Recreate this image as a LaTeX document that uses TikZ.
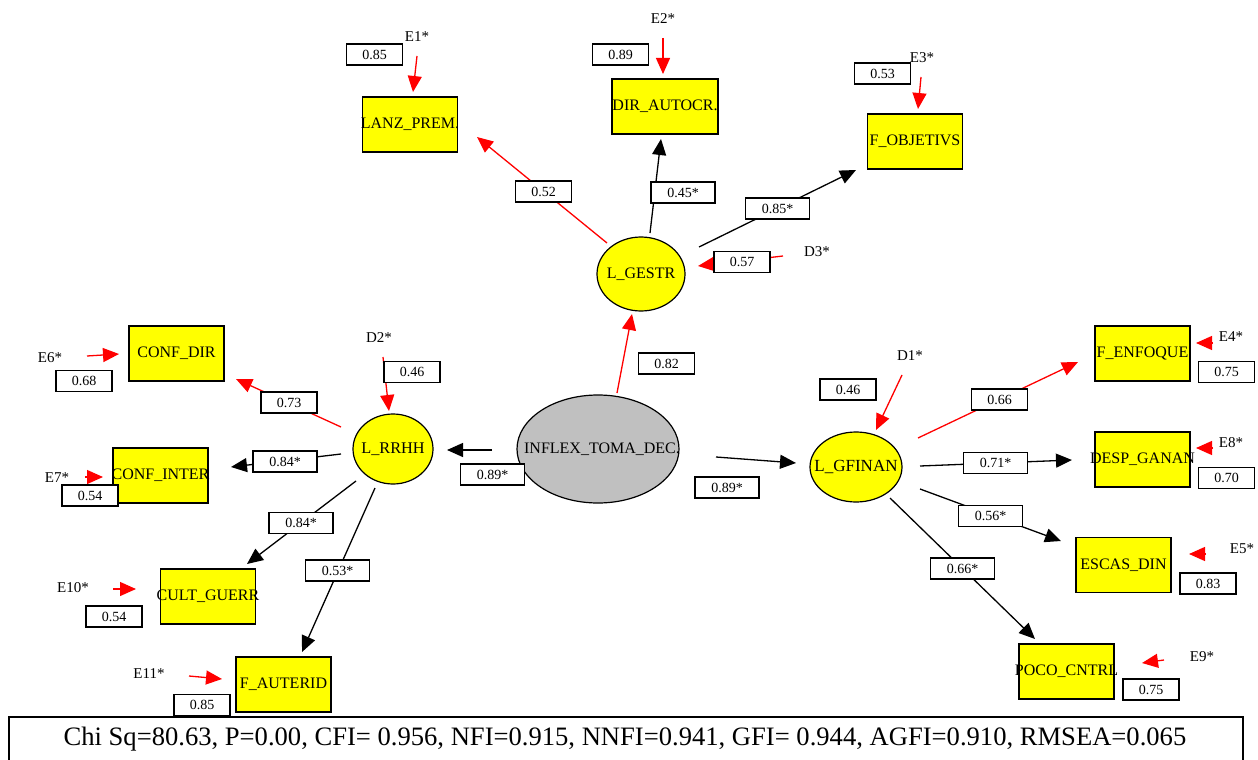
\documentclass[tikz,border=0pt]{standalone}
\usepackage{fontspec}
\setmainfont{Liberation Serif}
\usetikzlibrary{arrows.meta,shapes.geometric}
\definecolor{yel}{RGB}{255,255,0}
\definecolor{gry}{RGB}{192,192,192}
\definecolor{rd}{RGB}{255,0,0}
\begin{document}
\begin{tikzpicture}[x=1pt,y=-1pt,
  obs/.style={draw=black,fill=yel,line width=1.2pt,minimum width=95pt,minimum height=55pt,inner sep=0pt},
  lat/.style={ellipse,draw=black,fill=yel,line width=1.2pt,inner sep=0pt},
  ntxt/.style={inner sep=0pt,font=\fontsize{16}{16}\selectfont},
  lbl/.style={draw=black,fill=white,line width=1.2pt,minimum height=21pt,minimum width=56pt,inner sep=0pt,font=\fontsize{14}{14}\selectfont},
  lbls/.style={lbl,minimum width=64pt},
  errt/.style={inner sep=0pt,font=\fontsize{15}{15}\selectfont},
  blk/.style={draw=black,line width=1.3pt,-{Triangle[length=16pt,width=14pt]}},
  rarr/.style={draw=rd,line width=1.3pt,-{Triangle[length=16pt,width=14pt]}}
]
\useasboundingbox (0,0) rectangle (1258,760);

% observed variables
\node[obs,label={[ntxt]center:LANZ\_PREM.}] (lanz) at (410,124.5) {};
\node[obs,minimum width=106pt,label={[ntxt]center:DIR\_AUTOCR.}] (dir) at (665,106.5) {};
\node[obs,label={[ntxt]center:F\_OBJETIVS}] (fobj) at (915,141.5) {};
\node[obs,label={[ntxt]center:CONF\_DIR}] (confdir) at (176.5,353.5) {};
\node[obs,label={[ntxt]center:CONF\_INTER}] (confint) at (160.5,475.5) {};
\node[obs,label={[ntxt]center:CULT\_GUERR}] (cult) at (208,596.5) {};
\node[obs,label={[ntxt]center:F\_AUTERID}] (faut) at (283.5,684.5) {};
\node[obs,label={[ntxt]center:F\_ENFOQUE}] (fenf) at (1142.5,353.5) {};
\node[obs,label={[ntxt]center:DESP\_GANAN}] (desp) at (1142.5,459.5) {};
\node[obs,label={[ntxt]center:ESCAS\_DIN}] (escas) at (1123.5,565) {};
\node[obs,label={[ntxt]center:POCO\_CNTRL}] (poco) at (1066.5,671.5) {};

% latent variables
\node[lat,minimum width=88pt,minimum height=74pt,label={[ntxt]center:L\_GESTR}] (gestr) at (641,274) {};
\node[lat,minimum width=80pt,minimum height=70pt,label={[ntxt,font=\fontsize{16.3}{16}\selectfont]center:L\_RRHH}] (rrhh) at (393,449) {};
\node[lat,minimum width=92pt,minimum height=70pt,label={[ntxt,font=\fontsize{17}{17}\selectfont]center:L\_GFINAN}] (gfin) at (856,467) {};
\node[lat,fill=gry,minimum width=162pt,minimum height=108pt,label={[ntxt,xshift=4pt]center:INFLEX\_TOMA\_DEC.}] (infl) at (598,449) {};

% error / disturbance names
\node[errt] (e1) at (417,37) {E1*};
\node[errt] (e2) at (663,19) {E2*};
\node[errt] (e3) at (922,58) {E3*};
\node[errt] (d3) at (817,252) {D3*};
\node[errt] (e6) at (50,358) {E6*};
\node[errt] (d2) at (379,338) {D2*};
\node[errt] (e7) at (57,478) {E7*};
\node[errt] (e10) at (73,588) {E10*};
\node[errt] (e11) at (149,674) {E11*};
\node[errt] (d1) at (910,356) {D1*};
\node[errt] (e4) at (1231,337) {E4*};
\node[errt] (e8) at (1231,443) {E8*};
\node[errt] (e5) at (1242,549) {E5*};
\node[errt] (e9) at (1202,657) {E9*};

% connector end points
\coordinate (e1s) at (417,56);   \coordinate (e1e) at (413,92);
\coordinate (e2s) at (663,38);   \coordinate (e2e) at (663,74);
\coordinate (e3s) at (921,77);   \coordinate (e3e) at (918,109);
\coordinate (d3s) at (783,256);  \coordinate (d3e) at (698,266);
\coordinate (gls) at (607,243);  \coordinate (gle) at (477,137);
\coordinate (igs) at (617,393);  \coordinate (ige) at (632,314);
\coordinate (e6s) at (87,356);   \coordinate (e6e) at (119,354);
\coordinate (d2s) at (383,357);  \coordinate (d2e) at (389,411);
\coordinate (rcds) at (341,427); \coordinate (rcde) at (236,379);
\coordinate (e7s) at (85,477);   \coordinate (e7e) at (103,477);
\coordinate (e10s) at (113,589); \coordinate (e10e) at (136,589);
\coordinate (e11s) at (189,676); \coordinate (e11e) at (222,679);
\coordinate (d1s) at (902,375);  \coordinate (d1e) at (876,430);
\coordinate (gfs) at (918,438);  \coordinate (gfe) at (1078,362);
\coordinate (e4s) at (1213,343); \coordinate (e4e) at (1196,343);
\coordinate (e8s) at (1213,448); \coordinate (e8e) at (1196,448);
\coordinate (e5s) at (1206,554); \coordinate (e5e) at (1189,554);
\coordinate (e9s) at (1164,660); \coordinate (e9e) at (1142,663);
\coordinate (gds) at (650,233);  \coordinate (gde) at (661,139);
\coordinate (gos) at (699,247);  \coordinate (goe) at (856,170);
\coordinate (irs) at (492,450);  \coordinate (ire) at (447,450);
\coordinate (rcis) at (341,454); \coordinate (rcie) at (231,467);
\coordinate (rcgs) at (356,481); \coordinate (rcge) at (247,564);
\coordinate (rfas) at (375,488); \coordinate (rfae) at (302,652);
\coordinate (ifs) at (716,457);  \coordinate (ife) at (796,463);
\coordinate (fds) at (920,466);  \coordinate (fde) at (1072,460);
\coordinate (fes) at (920,489);  \coordinate (fee) at (1061,541);
\coordinate (fps) at (890,498);  \coordinate (fpe) at (1035,639);

% red connectors
\foreach \s/\e in {e1s/e1e,e2s/e2e,e3s/e3e,d3s/d3e,gls/gle,igs/ige,e6s/e6e,d2s/d2e,rcds/rcde,e7s/e7e,e10s/e10e,e11s/e11e,d1s/d1e,gfs/gfe,e4s/e4e,e8s/e8e,e5s/e5e,e9s/e9e}
  \draw[rarr] (\s) -- (\e);
% black connectors
\foreach \s/\e in {gds/gde,gos/goe,irs/ire,rcis/rcie,rcgs/rcge,rfas/rfae,ifs/ife,fds/fde,fes/fee,fps/fpe}
  \draw[blk] (\s) -- (\e);

% value labels
\node[lbl] (l1) at (374.5,54.5) {0.85};
\node[lbl] (l2) at (620.5,54.5) {0.89};
\node[lbl] (l3) at (882.5,73.5) {0.53};
\node[lbl] (l4) at (543.5,191.5) {0.52};
\node[lbls] (l5) at (683,192.5) {0.45*};
\node[lbls] (l6) at (777.5,208.5) {0.85*};
\node[lbl] (l7) at (742,262) {0.57};
\node[lbl] (l8) at (666.5,363.5) {0.82};
\node[lbl] (l9) at (84,381) {0.68};
\node[lbl] (l10) at (412,372) {0.46};
\node[lbl] (l11) at (289,402.5) {0.73};
\node[lbls] (l12) at (285,461.5) {0.84*};
\node[lbl] (l13) at (90,495.5) {0.54};
\node[lbls] (l14) at (492.5,474.5) {0.89*};
\node[lbls] (l15) at (301,523) {0.84*};
\node[lbls] (l16) at (337.5,570.5) {0.53*};
\node[lbl] (l17) at (114,616.5) {0.54};
\node[lbl] (l18) at (202,705) {0.85};
\node[lbls] (l19) at (727,487.5) {0.89*};
\node[lbl] (l20) at (848,389.5) {0.46};
\node[lbl] (l21) at (999.5,399.5) {0.66};
\node[lbl] (l22) at (1226.5,372) {0.75};
\node[lbls] (l23) at (995.5,463) {0.71*};
\node[lbl] (l24) at (1226.5,478) {0.70};
\node[lbls] (l25) at (990.5,516) {0.56*};
\node[lbl] (l26) at (1208,583.5) {0.83};
\node[lbls] (l27) at (962.5,568.5) {0.66*};
\node[lbl] (l28) at (1151,689.5) {0.75};

% fit statistics
\draw[line width=2pt] (9,717) rectangle (1243,770);
\node[inner sep=0pt,font=\fontsize{26.6}{26.6}\selectfont] (fit) at (625,739) {Chi Sq=80.63, P=0.00, CFI= 0.956, NFI=0.915, NNFI=0.941, GFI= 0.944, AGFI=0.910, RMSEA=0.065};
\end{tikzpicture}
\end{document}
